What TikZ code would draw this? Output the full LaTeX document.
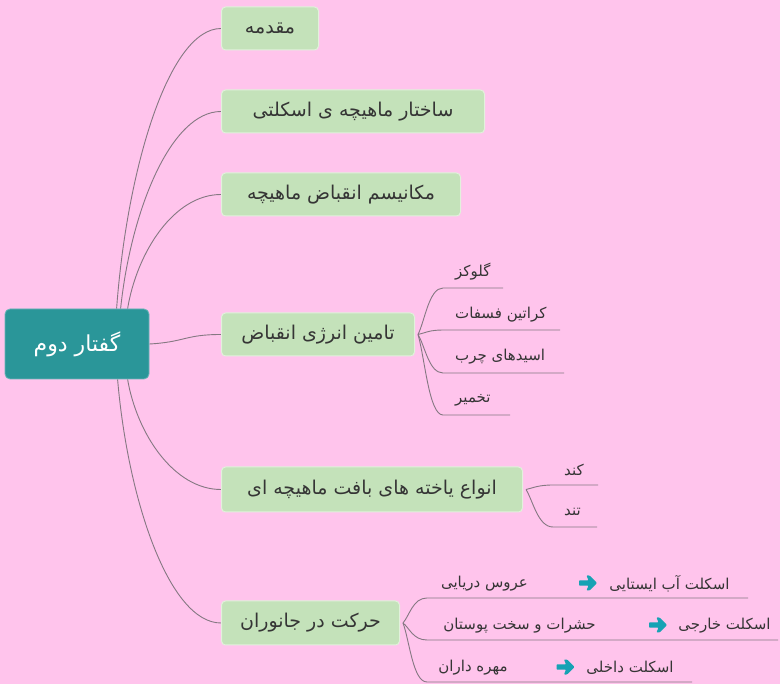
\documentclass[tikz,border=0pt]{standalone}
\usepackage{fontspec}
\setmainfont{DejaVu Sans}
\newfontfamily\arabicfont[Script=Arabic]{DejaVu Sans}
\TeXXeTstate=1
\usetikzlibrary{backgrounds,calc}
\definecolor{bg}{HTML}{FFC4EC}
\definecolor{rootc}{HTML}{2A9699}
\definecolor{boxc}{HTML}{C4E2BA}
\definecolor{boxb}{HTML}{E2F1DC}
\definecolor{txt}{HTML}{353535}
\definecolor{linec}{HTML}{857882}
\definecolor{arrc}{HTML}{17A2B4}
\newcommand{\fa}[1]{{\arabicfont\beginR #1\endR}}
\begin{document}
\begin{tikzpicture}[x=1pt,y=-1pt,
  rootbox/.style={fill=rootc, draw=rootc!70!white, rounded corners=5pt, line width=0.8pt, text=white,
    font=\arabicfont\fontsize{22}{26}\selectfont, inner sep=0pt, minimum width=144pt, minimum height=70pt},
  topic/.style={fill=boxc, draw=boxb, rounded corners=4pt, line width=1pt, text=txt,
    font=\arabicfont\fontsize{19}{22}\selectfont, inner sep=0pt, minimum height=43pt, anchor=west},
  sub/.style={text=txt, font=\arabicfont\fontsize{15}{18}\selectfont, inner sep=0pt},
  conn/.style={draw=linec, line width=0.9pt},
  fatarrow/.pic={\fill[arrc, rounded corners=0.8pt] (-9,-2.6) -- (0.5,-2.6) -- (-1.5,-7.5) -- (1.5,-7.5) -- (9,0)
      -- (1.5,7.5) -- (-1.5,7.5) -- (0.5,2.6) -- (-9,2.6) -- cycle;}]
\useasboundingbox (0,0) rectangle (780,684);

% root and topics
\node[rootbox] (root) at (77,344) {\fa{گفتار دوم}};
\node[topic, minimum width=97pt]  (t1) at (221,28.5)  {\fa{مقدمه}};
\node[topic, minimum width=263pt] (t2) at (221,111.5) {\fa{ساختار ماهیچه ی اسکلتی}};
\node[topic, minimum width=239pt] (t3) at (221,194.5) {\fa{مکانیسم انقباض ماهیچه}};
\node[topic, minimum width=193pt] (t4) at (221,334.5) {\fa{تامین انرژی انقباض}};
\node[topic, minimum width=301pt, minimum height=45pt] (t5) at (221,489.5) {\fa{انواع یاخته های بافت ماهیچه ای}};
\node[topic, minimum width=178pt, minimum height=44pt] (t6) at (221,623) {\fa{حرکت در جانوران}};

% sub-topic texts
\node[sub, anchor=west] (s1) at (455,272) {\fa{گلوکز}};
\node[sub, anchor=west] (s2) at (455,315) {\fa{کراتین فسفات}};
\node[sub, anchor=west] (s3) at (455,357) {\fa{اسیدهای چرب}};
\node[sub, anchor=west] (s4) at (455,400) {\fa{تخمیر}};
\node[sub, anchor=west] (k1) at (564,470) {\fa{کند}};
\node[sub, anchor=west] (k2) at (564,512) {\fa{تند}};

\node[sub] (m1a) at (484.5,584) {\fa{عروس دریایی}};
\pic at (588,583) {fatarrow};
\node[sub] (m1c) at (669.5,584) {\fa{اسکلت آب ایستایی}};
\node[sub] (m2a) at (519.5,626) {\fa{حشرات و سخت پوستان}};
\pic at (658,625) {fatarrow};
\node[sub] (m2c) at (724.5,626) {\fa{اسکلت خارجی}};
\node[sub] (m3a) at (473,668) {\fa{مهره داران}};
\pic at (565.5,667) {fatarrow};
\node[sub] (m3c) at (630,668) {\fa{اسکلت داخلی}};

% coordinates
\coordinate (r1) at ($(root.north west)+(112,0)$);
\coordinate (r2) at ($(root.north west)+(116,0)$);
\coordinate (r3) at ($(root.north west)+(123,0)$);
\coordinate (r5) at ($(root.south west)+(123,0)$);
\coordinate (r6) at ($(root.south west)+(113,0)$);
\coordinate (f4) at ($(t4.east)+(3,0)$);
\coordinate (f5) at ($(t5.east)+(3,0)$);
\coordinate (f6) at ($(t6.east)+(3,0)$);
\coordinate (a1s) at (443,288); \coordinate (a1e) at (503,288);
\coordinate (a2s) at (443,330); \coordinate (a2e) at (560,330);
\coordinate (a3s) at (443,373); \coordinate (a3e) at (564,373);
\coordinate (a4s) at (443,415); \coordinate (a4e) at (510,415);
\coordinate (b1s) at (553,485); \coordinate (b1e) at (598,485);
\coordinate (b2s) at (553,527); \coordinate (b2e) at (597,527);
\coordinate (c1s) at (427,598); \coordinate (c1e) at (748,598);
\coordinate (c2s) at (427,640); \coordinate (c2e) at (778,640);
\coordinate (c3s) at (427,682); \coordinate (c3e) at (692,682);

\begin{pgfonlayer}{background}
\fill[bg] (0,0) rectangle (780,684);
% root -> topics
\draw[conn] (r1) .. controls (127,168) and (169,28.5) .. (t1.west);
\draw[conn] (r2) .. controls (131,210) and (171,111.5) .. (t2.west);
\draw[conn] (r3) .. controls (137,252) and (174,194.5) .. (t3.west);
\draw[conn] (root.east) .. controls (185,342) and (185,334.5) .. (t4.west);
\draw[conn] (r5) .. controls (137,434) and (174,489.5) .. (t5.west);
\draw[conn] (r6) .. controls (128,501) and (169.5,623) .. (t6.west);
% topic 4 subs
\draw[conn] (f4) .. controls (425,320.5) and (429,288) .. (a1s) -- (a1e);
\draw[conn] (f4) .. controls (425,333) and (429,330) .. (a2s) -- (a2e);
\draw[conn] (f4) .. controls (425,346) and (429,373) .. (a3s) -- (a3e);
\draw[conn] (f4) .. controls (425,358.7) and (429,415) .. (a4s) -- (a4e);
% topic 5 subs
\draw[conn] (f5) .. controls (533,488) and (538,485) .. (b1s) -- (b1e);
\draw[conn] (f5) .. controls (533,500.7) and (538,527) .. (b2s) -- (b2e);
% topic 6 subs
\draw[conn] (f6) .. controls (409.5,615.5) and (413,598) .. (c1s) -- (c1e);
\draw[conn] (f6) .. controls (409.5,628) and (413,640) .. (c2s) -- (c2e);
\draw[conn] (f6) .. controls (409.5,640.7) and (413,682) .. (c3s) -- (c3e);
\end{pgfonlayer}
\end{tikzpicture}
\end{document}
